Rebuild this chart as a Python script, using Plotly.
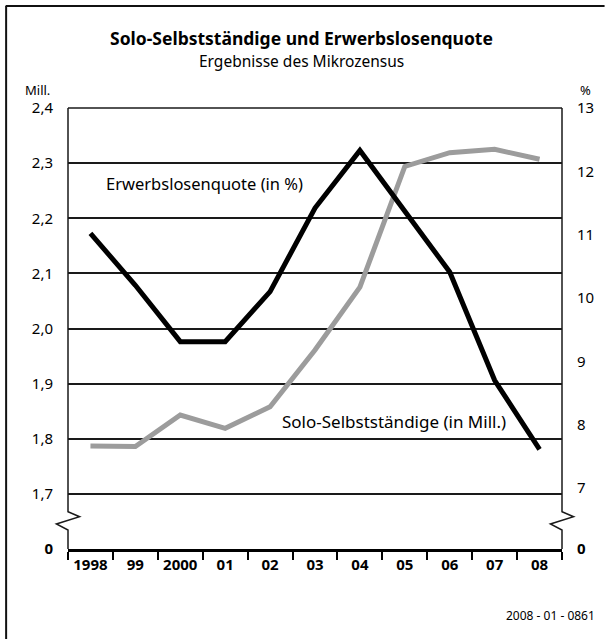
import plotly.graph_objects as go

# ---- data ----
years = ["1998", "99", "2000", "01", "02", "03", "04", "05", "06", "07", "08"]
solo_selbststaendige = [1.787, 1.786, 1.843, 1.819, 1.858, 1.961, 2.075, 2.294, 2.319, 2.325, 2.307]  # Mill.
erwerbslosenquote = [11.02, 10.20, 9.31, 9.31, 10.10, 11.42, 12.33, 11.36, 10.41, 8.70, 7.61]  # %

left_tickvals = [1.6, 1.7, 1.8, 1.9, 2.0, 2.1, 2.2, 2.3, 2.4]
left_ticktext = ["<b>0</b>", "1,7", "1,8", "1,9", "2,0", "2,1", "2,2", "2,3", "2,4"]
right_break = 6.036
right_tickvals = [right_break, 7, 8, 9, 10, 11, 12, 13]
right_ticktext = ["<b>0</b>", "7", "8", "9", "10", "11", "12", "13"]

FONT = "Noto Sans"

# ---- layout geometry (pixels) ----
W, H = 606, 639
L, R, T, B = 68, 567, 108, 549


def px(x):
    return (x - L) / (R - L)


def py(y):
    return (B - y) / (B - T)


fig = go.Figure()
fig.add_trace(go.Scatter(x=years, y=solo_selbststaendige, mode="lines", yaxis="y",
                         line=dict(color="#9c9c9c", width=5), hoverinfo="skip"))
fig.add_trace(go.Scatter(x=years, y=erwerbslosenquote, mode="lines", yaxis="y2",
                         line=dict(color="#000000", width=5), hoverinfo="skip"))

shapes = []
line_style = dict(color="#1a1a1a", width=1.5)
# axis lines with break zigzag
for xa in (L, R):
    path = (f"M{px(xa)},{py(T)} L{px(xa)},{py(511.7)} L{px(xa + 11.7)},{py(516.7)} "
            f"L{px(xa - 11.7)},{py(524)} L{px(xa)},{py(530)} L{px(xa)},{py(B)}")
    shapes.append(dict(type="path", xref="paper", yref="paper", path=path, line=line_style))
# top line
shapes.append(dict(type="line", xref="paper", yref="paper", x0=px(L), x1=px(R), y0=py(T), y1=py(T),
                   line=line_style))
# outer frame (left and top)
shapes.append(dict(type="line", xref="paper", yref="paper", x0=px(5.5), x1=px(5.5), y0=py(6), y1=py(650),
                   line=dict(color="#111", width=2)))
shapes.append(dict(type="line", xref="paper", yref="paper", x0=px(5), x1=px(610), y0=py(6), y1=py(6),
                   line=dict(color="#111", width=2)))

annotations = [
    dict(text="<b>Solo-Selbstständige und Erwerbslosenquote</b>", x=px(304), y=py(38), xref="paper", yref="paper",
         showarrow=False, xanchor="center", yanchor="middle", font=dict(size=17.5, color="#000", family=FONT)),
    dict(text="Ergebnisse des Mikrozensus", x=px(304), y=py(61), xref="paper", yref="paper",
         showarrow=False, xanchor="center", yanchor="middle", font=dict(size=15.5, color="#000", family=FONT)),
    dict(text="Mill.", x=px(52), y=py(90), xref="paper", yref="paper", showarrow=False,
         xanchor="right", yanchor="middle", font=dict(size=13, color="#000", family=FONT)),
    dict(text="%", x=px(583), y=py(90), xref="paper", yref="paper", showarrow=False,
         xanchor="left", yanchor="middle", font=dict(size=13, color="#000", family=FONT)),
    dict(text="Erwerbslosenquote (in %)", x=px(104), y=py(183), xref="paper", yref="paper", showarrow=False,
         xanchor="left", yanchor="middle", font=dict(size=16.5, color="#000", family=FONT)),
    dict(text="Solo-Selbstständige (in Mill.)", x=px(282), y=py(421), xref="paper", yref="paper", showarrow=False,
         xanchor="left", yanchor="middle", font=dict(size=17, color="#000", family=FONT)),
    dict(text="2008 - 01 - 0861", x=px(602), y=py(615), xref="paper", yref="paper", showarrow=False,
         xanchor="right", yanchor="middle", font=dict(size=12, color="#000", family=FONT)),
]

fig.update_layout(
    width=W, height=H,
    margin=dict(l=L, r=W - R, t=T, b=H - B, pad=0),
    paper_bgcolor="white", plot_bgcolor="white",
    showlegend=False,
    font=dict(family=FONT, color="#000"),
    xaxis=dict(type="category", range=[-0.5, 10.5], showline=True, linecolor="#000", linewidth=2.5,
               ticks="outside", tickson="boundaries", ticklen=8, tickwidth=1.5, tickcolor="#000",
               tickfont=dict(size=15, family=FONT, weight="bold", color="#000"),
               showgrid=False, zeroline=False, fixedrange=True),
    yaxis=dict(range=[1.6, 2.4], tickvals=left_tickvals, ticktext=left_ticktext,
               showgrid=True, gridcolor="#1a1a1a", gridwidth=1.5, showline=False, ticks="",
               ticklabelstandoff=14, tickfont=dict(size=15, family=FONT, color="#000"),
               zeroline=False, fixedrange=True),
    yaxis2=dict(range=[right_break, 13], tickvals=right_tickvals, ticktext=right_ticktext,
                overlaying="y", side="right", showgrid=False, showline=False, ticks="",
                ticklabelstandoff=14, tickfont=dict(size=15, family=FONT, color="#000"),
                zeroline=False, fixedrange=True),
    shapes=shapes,
    annotations=annotations,
)

fig.write_html("out.html", config={"displayModeBar": False},
               post_script="document.body.style.margin='0';document.body.style.overflow='hidden';")
